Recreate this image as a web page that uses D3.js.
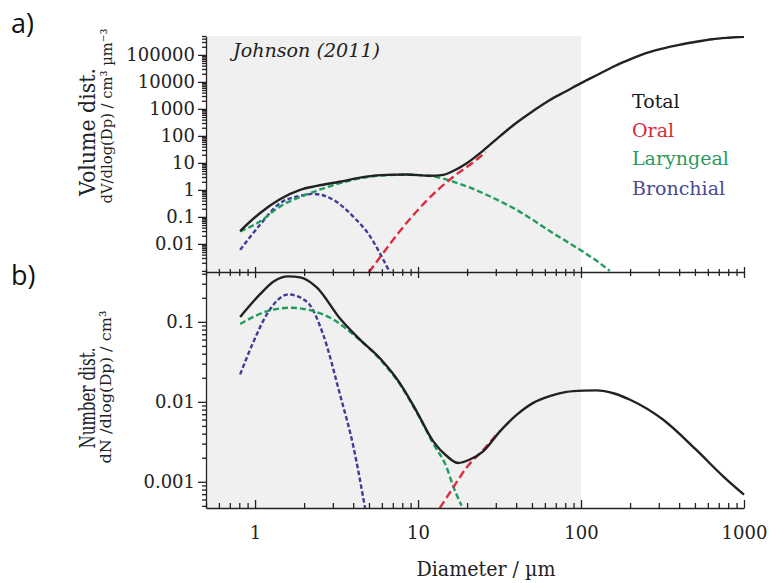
<!DOCTYPE html>
<html>
<head>
<meta charset="utf-8">
<script src="https://cdn.jsdelivr.net/npm/d3@7/dist/d3.min.js"></script>
<style>
  body { margin: 0; background: #fff; }
  figure { margin: 0; }
  svg { display: block; font-family: "DejaVu Serif", serif; }
</style>
</head>
<body>
<figure id="deposition"></figure>
<script>
// diameters in µm, values read off the Johnson (2011) curves
// a) volume distribution
const volTotalD = [0.81, 1.07, 1.42, 1.89, 2.4, 3.3, 4.8, 6.4, 8.5, 11.8, 14.3, 16.4, 19.8, 25, 32, 40, 51, 64, 81, 100, 130, 160, 200, 250, 320, 400, 500, 640, 800, 1000];
const volTotal = [0.030, 0.137, 0.45, 1.0, 1.4, 2.0, 3.1, 3.6, 3.7, 3.35, 3.6, 5.0, 9.5, 28, 100, 300, 850, 2100, 4500, 9000, 20000, 38000, 68000, 115000, 175000, 235000, 300000, 380000, 430000, 470000];
const volOralD = [5.0, 5.8, 7.75, 11.3, 16.4, 21.8, 26];
const volOral = [0.0009, 0.003, 0.03, 0.4, 3.0, 10.5, 25];
const volLaryngealD = [0.81, 1.07, 1.42, 2.17, 3.32, 4.8, 6.4, 8.5, 11.8, 14.3, 16.4, 20.3, 25.1, 31.9, 40.4, 50.9, 64.2, 81.5, 103, 131, 150];
const volLaryngeal = [0.029, 0.067, 0.24, 0.75, 1.77, 2.95, 3.5, 3.65, 3.3, 2.6, 2.03, 1.29, 0.75, 0.38, 0.18, 0.076, 0.030, 0.0124, 0.0051, 0.0019, 0.001];
const volBronchialD = [0.81, 1.07, 1.42, 1.89, 2.28, 3.02, 4.02, 5.08, 5.98, 6.7];
const volBronchial = [0.006, 0.05, 0.32, 0.6, 0.71, 0.43, 0.10, 0.019, 0.0034, 0.0009];

// b) number distribution
const numTotalD = [0.81, 1.07, 1.30, 1.60, 1.89, 2.39, 3.32, 4.40, 5.84, 7.75, 9.8, 12.4, 15.0, 17.6, 20.8, 25.1, 31.9, 40.4, 50.9, 64.2, 81.5, 103, 124, 160, 200, 318, 510, 745, 1000];
const numTotal = [0.115, 0.22, 0.32, 0.37, 0.36, 0.27, 0.11, 0.060, 0.035, 0.017, 0.0076, 0.0032, 0.0021, 0.00172, 0.0019, 0.0024, 0.0043, 0.0069, 0.0097, 0.0118, 0.0133, 0.0138, 0.0139, 0.0127, 0.0106, 0.006, 0.0025, 0.00117, 0.00069];
const numOralD = [13.6, 16.4, 19.8, 25.1, 30];
const numOral = [0.00047, 0.00084, 0.0015, 0.0025, 0.0038];
const numLaryngealD = [0.81, 1.18, 1.64, 2.17, 3.02, 4.02, 5.84, 7.75, 9.8, 12.4, 15.0, 16.4, 18.5];
const numLaryngeal = [0.094, 0.135, 0.15, 0.14, 0.107, 0.069, 0.034, 0.0165, 0.0074, 0.003, 0.0015, 0.00089, 0.0005];
const numBronchialD = [0.81, 0.98, 1.18, 1.60, 2.07, 2.62, 3.32, 4.02, 4.73];
const numBronchial = [0.022, 0.057, 0.124, 0.22, 0.18, 0.069, 0.0123, 0.0027, 0.00047];

const legendNames = ["Total", "Oral", "Laryngeal", "Bronchial"];
const xTicks = [1, 10, 100, 1000];
const volTicks = [0.01, 0.1, 1, 10, 100, 1000, 10000, 100000];
const numTicks = [0.001, 0.01, 0.1];
const shadeEnd = 100; // upper limit of the grey band, µm

const colors = { Total: "#222", Oral: "#dc2c40", Laryngeal: "#1f9d5c", Bronchial: "#3d3d96" };
const legendColors = { Total: "#1a1a1a", Oral: "#d8283e", Laryngeal: "#2a9a5e", Bronchial: "#4a4a92" };
const dashes = { Total: null, Oral: "8,4", Laryngeal: "6,3", Bronchial: "4.5,2.5" };

const zip = (ds, vs) => ds.map((d, i) => [d, vs[i]]);

class DepositionChart {
  constructor() {
    this.width = 772;
    this.height = 583;
    this.left = 206;
    this.right = 744;
    this.topA = 36;
    this.mid = 272;
    this.bottomB = 508;
  }

  init() {
    this.svg = d3.select("figure#deposition").append("svg")
      .attr("width", this.width)
      .attr("height", this.height)
      .attr("viewBox", `0 0 ${this.width} ${this.height}`);

    this.x = d3.scaleLog().domain([0.5, 1000]).range([this.left, this.right]);
    this.yVol = d3.scaleLog().domain([9.1e-4, 5e5]).range([this.mid, this.topA]);
    this.yNum = d3.scaleLog().domain([4.7e-4, 0.42]).range([this.bottomB, this.mid]);
  }

  draw() {
    const svg = this.svg;

    // grey band behind both panels
    svg.append("rect")
      .attr("x", this.x(0.5))
      .attr("y", this.topA)
      .attr("width", this.x(shadeEnd) - this.x(0.5))
      .attr("height", this.bottomB - this.topA)
      .attr("fill", "#f0f0f0");

    this.addClip("clipA", this.topA, this.mid);
    this.addClip("clipB", this.mid, this.bottomB);

    this.drawPanel("clipA", this.yVol, [
      ["Bronchial", zip(volBronchialD, volBronchial)],
      ["Laryngeal", zip(volLaryngealD, volLaryngeal)],
      ["Oral", zip(volOralD, volOral)],
      ["Total", zip(volTotalD, volTotal)]
    ]);
    this.drawPanel("clipB", this.yNum, [
      ["Bronchial", zip(numBronchialD, numBronchial)],
      ["Laryngeal", zip(numLaryngealD, numLaryngeal)],
      ["Oral", zip(numOralD, numOral)],
      ["Total", zip(numTotalD, numTotal)]
    ]);

    this.drawYAxis(this.yVol, volTicks);
    this.drawYAxis(this.yNum, numTicks);
    this.drawXAxes();
    this.drawTexts();
  }

  addClip(id, y0, y1) {
    this.svg.append("clipPath").attr("id", id)
      .append("rect")
      .attr("x", this.left)
      .attr("y", y0)
      .attr("width", this.right - this.left + 2)
      .attr("height", y1 - y0);
  }

  drawPanel(clip, y, series) {
    const line = d3.line()
      .x((d) => this.x(d[0]))
      .y((d) => y(d[1]))
      .curve(d3.curveMonotoneX);

    this.svg.append("g")
      .attr("clip-path", `url(#${clip})`)
      .selectAll("path")
      .data(series).enter()
      .append("path")
      .attr("d", (s) => line(s[1]))
      .attr("fill", "none")
      .attr("stroke", (s) => colors[s[0]])
      .attr("stroke-width", 2.4)
      .attr("stroke-dasharray", (s) => dashes[s[0]]);
  }

  // log ticks 1..9 per decade, minus the labelled ones
  minorTicks(scale, major) {
    return scale.ticks(20).filter((t) => !major.some((m) => Math.abs(m / t - 1) < 1e-6));
  }

  drawYAxis(y, major) {
    const minor = this.minorTicks(y, major);
    const g = this.svg.append("g").attr("class", "axis").attr("transform", `translate(${this.left},0)`);

    g.append("g")
      .call(d3.axisLeft(y).tickValues(minor).tickSize(4).tickSizeOuter(0).tickFormat(""))
      .call((a) => a.select(".domain").remove());
    g.append("g")
      .call(d3.axisLeft(y).tickValues(major).tickSize(8).tickSizeOuter(0).tickPadding(3)
        .tickFormat(d3.format("~g")))
      .call((a) => a.selectAll("text").style("font-size", "18px").attr("fill", "#222"));
    g.selectAll("path, line").attr("stroke", "#222").attr("stroke-width", 1.3);
    g.selectAll("text").attr("font-family", "DejaVu Serif");
  }

  drawXAxes() {
    const minor = this.minorTicks(this.x, xTicks);

    // shared axis between the panels
    const mid = this.svg.append("g").attr("class", "axis").attr("transform", `translate(0,${this.mid})`);
    mid.append("g").call(d3.axisBottom(this.x).tickValues(minor).tickSize(4).tickSizeOuter(0).tickFormat(""));
    mid.append("g").call(d3.axisTop(this.x).tickValues(minor).tickSize(3).tickSizeOuter(0).tickFormat(""))
      .call((a) => a.select(".domain").remove());
    mid.append("g").call(d3.axisBottom(this.x).tickValues(xTicks).tickSize(6).tickSizeOuter(0).tickFormat(""))
      .call((a) => a.select(".domain").remove());
    mid.append("g").call(d3.axisTop(this.x).tickValues(xTicks).tickSize(5).tickSizeOuter(0).tickFormat(""))
      .call((a) => a.select(".domain").remove());

    // bottom axis, ticks pointing up
    const bot = this.svg.append("g").attr("class", "axis").attr("transform", `translate(0,${this.bottomB})`);
    bot.append("g").call(d3.axisBottom(this.x).tickValues(minor).tickSize(-5).tickSizeOuter(0).tickFormat(""));
    bot.append("g").call(d3.axisBottom(this.x).tickValues(xTicks).tickSize(-8).tickSizeOuter(0)
      .tickFormat(d3.format("~g")))
      .call((a) => a.select(".domain").remove())
      .call((a) => a.selectAll("text").attr("y", 18).style("font-size", "18px")
        .attr("font-family", "DejaVu Serif").attr("fill", "#222"));

    this.svg.selectAll("g.axis path, g.axis line")
      .attr("stroke", "#222").attr("stroke-width", 1.3);
  }

  drawTexts() {
    const svg = this.svg;

    // panel letters
    svg.append("text").attr("x", 11).attr("y", 33).text("a)")
      .style("font-family", "'Open Sans', sans-serif").style("font-size", "27px").attr("fill", "#111");
    svg.append("text").attr("x", 11).attr("y", 285).text("b)")
      .style("font-family", "'Open Sans', sans-serif").style("font-size", "27px").attr("fill", "#111");

    // y titles
    this.rotated(95, 132, "Volume dist.", 22, 128);
    this.rotated(112, 116, "dV/dlog(Dp) / cm³ µm⁻³", 15, 175);
    this.rotated(95, 398, "Number dist.", 22, 101);
    this.rotated(111, 387, "dN /dlog(Dp) / cm³", 15, 153);

    svg.append("text")
      .attr("x", 486).attr("y", 576)
      .attr("text-anchor", "middle")
      .attr("textLength", 139).attr("lengthAdjust", "spacingAndGlyphs")
      .style("font-size", "20px").attr("fill", "#222")
      .text("Diameter / µm");

    svg.append("text")
      .attr("x", 233).attr("y", 57)
      .attr("textLength", 147).attr("lengthAdjust", "spacingAndGlyphs")
      .style("font-size", "19px").style("font-style", "italic").attr("fill", "#222")
      .text("Johnson (2011)");

    // legend
    const rows = [108, 137, 165, 195];
    svg.selectAll("text.legend")
      .data(legendNames).enter()
      .append("text")
      .attr("class", "legend")
      .attr("x", 632)
      .attr("y", (d, i) => rows[i])
      .style("font-size", "19px")
      .attr("fill", (d) => legendColors[d])
      .text((d) => d);
  }

  rotated(x, y, label, size, len) {
    this.svg.append("text")
      .attr("transform", `translate(${x},${y}) rotate(-90)`)
      .attr("text-anchor", "middle")
      .attr("textLength", len).attr("lengthAdjust", "spacingAndGlyphs")
      .style("font-size", size + "px")
      .attr("fill", "#222")
      .text(label);
  }
}

const chart = new DepositionChart();
chart.init();
chart.draw();
</script>
</body>
</html>
